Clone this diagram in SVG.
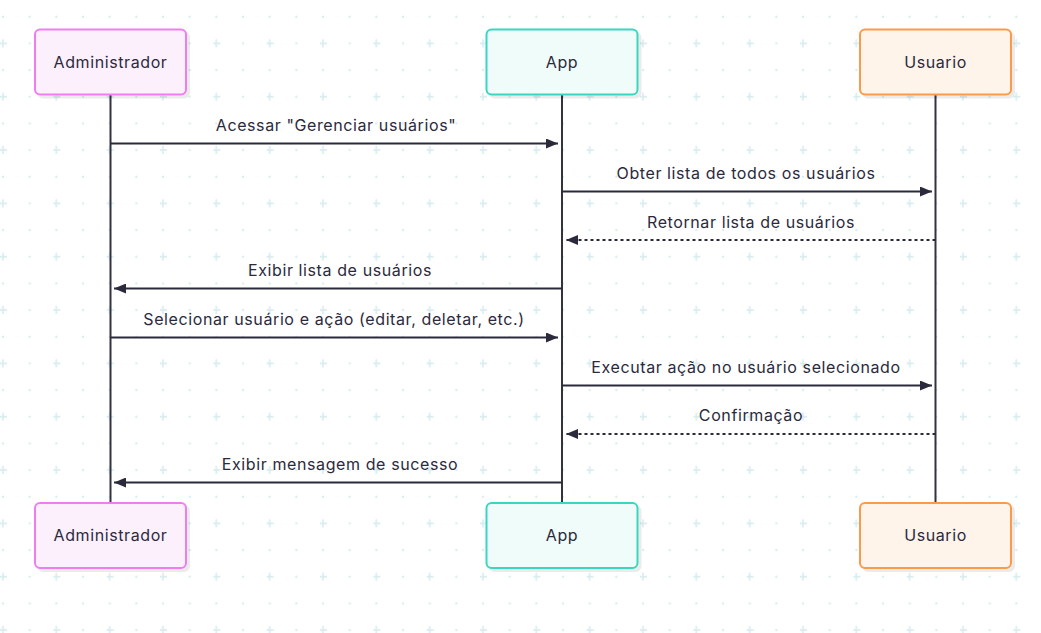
<svg xmlns="http://www.w3.org/2000/svg" width="1041" height="633" viewBox="0 0 1041 633">
<defs>
<pattern id="grid" patternUnits="userSpaceOnUse" width="53.333" height="53.333">
<circle cx="3" cy="16.67" r="1.2" fill="#d8ecf0"/>
<circle cx="29.67" cy="16.67" r="1.2" fill="#d8ecf0"/>
<circle cx="29.67" cy="43.33" r="1.2" fill="#d8ecf0"/>
<path d="M-1 43.33h8M3 39.33v8" stroke="#d8ecf0" stroke-width="1.6"/>
</pattern>
<marker id="ah" viewBox="0 0 12 10" refX="12" refY="5" markerWidth="12" markerHeight="10" markerUnits="userSpaceOnUse" orient="auto-start-reverse">
<path d="M0 0L12 5L0 10z" fill="#2b2a3d"/>
</marker>
<filter id="sh" x="-10%" y="-10%" width="130%" height="130%">
<feOffset dx="3" dy="3" in="SourceAlpha"/>
<feComponentTransfer><feFuncA type="linear" slope="0.08"/></feComponentTransfer>
<feMerge><feMergeNode/><feMergeNode in="SourceGraphic"/></feMerge>
</filter>
</defs>
<style>
text{font-family:Inter,"Noto Sans","Liberation Sans",sans-serif;font-size:16px;letter-spacing:0.6px;fill:#2b2a3d;text-anchor:middle}
.life{stroke:#33323f;stroke-width:2}
.msg{stroke:#2b2a3d;stroke-width:2;fill:none}
.dash{stroke-dasharray:3 3}
.adm{fill:#fdf0fd;stroke:#ee7ef0;stroke-width:2}
.app{fill:#f0fcfa;stroke:#3bd6c0;stroke-width:2}
.usr{fill:#fff4ea;stroke:#fb9a4a;stroke-width:2}
</style>
<rect width="1041" height="633" fill="#ffffff"/>
<rect width="1041" height="633" fill="url(#grid)"/>
<g id="lifelines">
<line class="life" x1="110.5" y1="95" x2="110.5" y2="503"/>
<line class="life" x1="562" y1="95" x2="562" y2="503"/>
<line class="life" x1="935.5" y1="95" x2="935.5" y2="503"/>
</g>
<g id="admin-top"><rect class="adm" x="35" y="29.5" width="151" height="65" rx="5" filter="url(#sh)"/><text x="110.5" y="67.5">Administrador</text></g>
<g id="app-top"><rect class="app" x="486.5" y="29.5" width="151" height="65" rx="5" filter="url(#sh)"/><text x="562" y="67.5">App</text></g>
<g id="usuario-top"><rect class="usr" x="860" y="29.5" width="151" height="65" rx="5" filter="url(#sh)"/><text x="935.5" y="67.5">Usuario</text></g>
<g id="admin-bottom"><rect class="adm" x="35" y="503" width="151" height="65" rx="5" filter="url(#sh)"/><text x="110.5" y="541">Administrador</text></g>
<g id="app-bottom"><rect class="app" x="486.5" y="503" width="151" height="65" rx="5" filter="url(#sh)"/><text x="562" y="541">App</text></g>
<g id="usuario-bottom"><rect class="usr" x="860" y="503" width="151" height="65" rx="5" filter="url(#sh)"/><text x="935.5" y="541">Usuario</text></g>
<g id="connectors">
<line class="msg" x1="110.5" y1="143.5" x2="558" y2="143.5" marker-end="url(#ah)"/>
<text x="336" y="131">Acessar "Gerenciar usuários"</text>
<line class="msg" x1="562" y1="191.5" x2="932" y2="191.5" marker-end="url(#ah)"/>
<text x="746" y="179">Obter lista de todos os usuários</text>
<line class="msg dash" x1="935.5" y1="240" x2="566" y2="240" marker-end="url(#ah)"/>
<text x="751" y="227.5">Retornar lista de usuários</text>
<line class="msg" x1="562" y1="288.5" x2="114" y2="288.5" marker-end="url(#ah)"/>
<text x="340" y="276">Exibir lista de usuários</text>
<line class="msg" x1="110.5" y1="337.5" x2="558" y2="337.5" marker-end="url(#ah)"/>
<text x="334" y="324.5">Selecionar usuário e ação (editar, deletar, etc.)</text>
<line class="msg" x1="562" y1="385.5" x2="932" y2="385.5" marker-end="url(#ah)"/>
<text x="746" y="373">Executar ação no usuário selecionado</text>
<line class="msg dash" x1="935.5" y1="434" x2="566" y2="434" marker-end="url(#ah)"/>
<text x="751" y="421">Confirmação</text>
<line class="msg" x1="562" y1="482.5" x2="114" y2="482.5" marker-end="url(#ah)"/>
<text x="340" y="470">Exibir mensagem de sucesso</text>
</g>
</svg>
